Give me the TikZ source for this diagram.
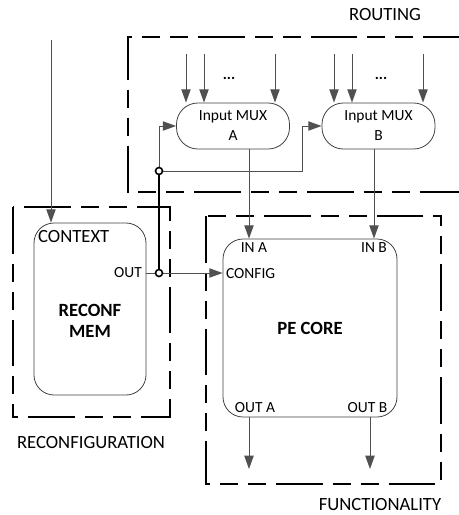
\documentclass[tikz,border=0pt]{standalone}
\usepackage{fontspec}
\setmainfont{Carlito}
\usetikzlibrary{arrows.meta,positioning}
\definecolor{wiregray}{HTML}{505050}
\definecolor{boxline}{HTML}{404040}
\newcommand{\pxu}{0.75pt}

\begin{document}
\begin{tikzpicture}[
  x=0.75pt, y=-0.75pt,
  muxbox/.style={
    rectangle,
    draw=boxline,
    line width=0.6pt,
    rounded corners=16pt,
    minimum width=113*\pxu,
    minimum height=46*\pxu,
    inner sep=0pt,
    align=center,
    font=\fontsize{11.6}{15}\selectfont
  },
  corebox/.style={rectangle, draw=boxline, line width=0.6pt, rounded corners=15pt, inner sep=0pt},
  group/.style={draw=black, line width=1.9pt,
    dash pattern=on 35pt off 7.5pt on 13.5pt off 7.5pt on 13.5pt off 7.5pt},
  wire/.style={draw=wiregray, line width=0.75pt},
  arr/.style={wire, -{Triangle[length=10pt,width=7pt]}},
  bus/.style={draw=black, line width=1.7pt},
  junc/.style={circle, draw=black, fill=white, line width=1.2pt, inner sep=0pt, minimum size=7*\pxu},
  port/.style={font=\fontsize{11.6}{14}\selectfont, inner sep=1pt},
  title/.style={font=\fontsize{14}{17}\selectfont, inner sep=1pt},
  heavy/.style={font=\fontsize{14}{15.75}\selectfont\bfseries, align=center, inner sep=0pt}
]
\useasboundingbox (0,0) rectangle (458,515);

% --- group frames ---
\draw[group] (470,37) -- (128,37) -- (128,192) -- (470,192);
\draw[group] (13,207) rectangle (170,417);
\draw[group] (206,216) rectangle (441,484);

\node[title] (routlbl) at (385,15) {ROUTING};
\node[title] (reconflbl) at (91,443) {RECONFIGURATION};
\node[title] (funclbl) at (380,505) {FUNCTIONALITY};

% --- blocks ---
\node[muxbox] (muxA) at (233,126) {Input MUX\\A};
\node[muxbox] (muxB) at (378.5,126) {Input MUX\\B};
\node[corebox, minimum width=112*\pxu, minimum height=172*\pxu] (mem) at (90,309) {};
\node[corebox, minimum width=174*\pxu, minimum height=178*\pxu] (pe) at (310,328) {};

\node[heavy] (memlbl) at (90,321) {RECONF\\MEM};
\node[title, anchor=west] (ctx) at (36.5,237) {CONTEXT};
\node[port, anchor=east] (memout) at (143.5,273) {OUT};

\node[heavy] (pelbl) at (310,328) {PE CORE};
\node[port] (ina) at (254,248) {IN A};
\node[port] (inb) at (374,248) {IN B};
\node[port, anchor=west] (cfg) at (224.5,274) {CONFIG};
\node[port] (outa) at (255,408) {OUT A};
\node[port] (outb) at (367.5,408) {OUT B};

% --- mux inputs ---
\foreach \x in {186,204,275} {
  \coordinate (ta\x) at (\x,54);
  \draw[arr] (ta\x) -- (ta\x |- muxA.north);
}
\foreach \x in {334,352,423} {
  \coordinate (tb\x) at (\x,54);
  \draw[arr] (tb\x) -- (tb\x |- muxB.north);
}
\node[port, font=\fontsize{11.6}{14}\selectfont\bfseries] (dotsA) at (229,78) {...};
\node[port, font=\fontsize{11.6}{14}\selectfont\bfseries] (dotsB) at (381,78) {...};

% --- mux outputs into core ---
\coordinate (xa) at (249,0);
\coordinate (xb) at (374,0);
\draw[arr] (muxA.south -| xa) -- (pe.north -| xa);
\draw[arr] (muxB.south -| xb) -- (pe.north -| xb);

% --- context and config ---
\coordinate (ctxin) at (51,40);
\draw[arr] (ctxin) -- (ctxin |- mem.north);

\coordinate (jo) at (159,273);
\coordinate (jt) at (159,171);
\coordinate (bend) at (302,171);
\draw[arr] (jo -| mem.east) -- (jo -| pe.west);
\draw[bus] (jo) -- (jt);
\draw[arr] (jt) |- (muxA.west);
\draw[arr] (jt) -- (bend) |- (muxB.west);
\node[junc] (jun1) at (jo) {};
\node[junc] (jun2) at (jt) {};

% --- core outputs ---
\coordinate (oa) at (249,469);
\coordinate (ob) at (370,469);
\draw[arr] (pe.south -| oa) -- (oa);
\draw[arr] (pe.south -| ob) -- (ob);

\end{tikzpicture}
\end{document}
